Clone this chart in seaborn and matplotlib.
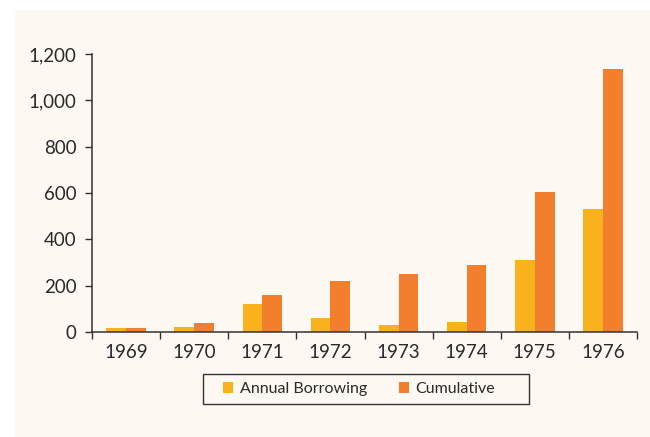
import matplotlib
matplotlib.use('Agg')
import matplotlib.pyplot as plt
from matplotlib.patches import Rectangle
from matplotlib.ticker import FixedLocator, FuncFormatter
import seaborn as sns
import pandas as pd

# 数据
years = ['1969', '1970', '1971', '1972', '1973', '1974', '1975', '1976']
annual_borrowing = [17, 22, 121, 59, 30, 42, 312, 530]
cumulative = [17, 39, 160, 219, 249, 289, 604, 1134]
series_names = ['Annual Borrowing', 'Cumulative']
colors = ['#F9B21B', '#F37F2D']

df = pd.DataFrame({
    'year': years * 2,
    'value': annual_borrowing + cumulative,
    'series': [series_names[0]] * len(years) + [series_names[1]] * len(years),
})

sns.set_style('ticks')
plt.rcParams['font.family'] = ['Lato', 'DejaVu Sans']

W, H = 650, 437
fig = plt.figure(figsize=(6.5, 4.37), dpi=100)
fig.patch.set_facecolor('white')
# 米色背景板
fig.patches.append(Rectangle((15 / W, 0), 1 - 15 / W, 1 - 10 / H,
                             transform=fig.transFigure, facecolor='#FDF8F1',
                             edgecolor='none', zorder=-10))

ax = fig.add_axes([92 / W, 1 - 332 / H, (637 - 92) / W, (332 - 54) / H])
ax.set_facecolor('none')
ax.set_zorder(1)

sns.barplot(data=df, x='year', y='value', hue='series', palette=colors,
            width=0.58, saturation=1, linewidth=0, ax=ax, legend=True)

ax.set_xlim(-0.5, len(years) - 0.5)
ax.set_ylim(0, 1200)
ax.set_yticks(range(0, 1201, 200))
ax.yaxis.set_major_formatter(FuncFormatter(lambda v, p: f'{int(v):,}'))
ax.set_xlabel('')
ax.set_ylabel('')

# x轴刻度线位于类别之间
ax.xaxis.set_minor_locator(FixedLocator([i - 0.5 for i in range(len(years) + 1)]))
ax.tick_params(axis='x', which='major', length=0, pad=9, labelsize=13.5, labelcolor='#2a2a2a')
ax.tick_params(axis='x', which='minor', length=5, width=1, color='#333333')
ax.tick_params(axis='y', length=5, width=1, color='#333333', pad=6, labelsize=13.5,
               labelcolor='#2a2a2a')

sns.despine(ax=ax)
for s in ['left', 'bottom']:
    ax.spines[s].set_color('#333333')
    ax.spines[s].set_linewidth(1.1)

# 图例框
fig.patches.append(Rectangle((203 / W, 1 - 404 / H), (529 - 203) / W, 30 / H,
                             transform=fig.transFigure, facecolor='none',
                             edgecolor='#333333', linewidth=1.0, zorder=2))
handles, labels = ax.get_legend_handles_labels()
ax.legend(handles, labels, loc='center left', bbox_to_anchor=(210 / W, 1 - 389 / H),
          bbox_transform=fig.transFigure, ncol=2, frameon=False, fontsize=11.5,
          handlelength=0.65, handleheight=0.65, handletextpad=0.4,
          columnspacing=2.0, borderpad=0.3, labelcolor='#2a2a2a')

fig.savefig('out.png', dpi=100, facecolor=fig.get_facecolor())
